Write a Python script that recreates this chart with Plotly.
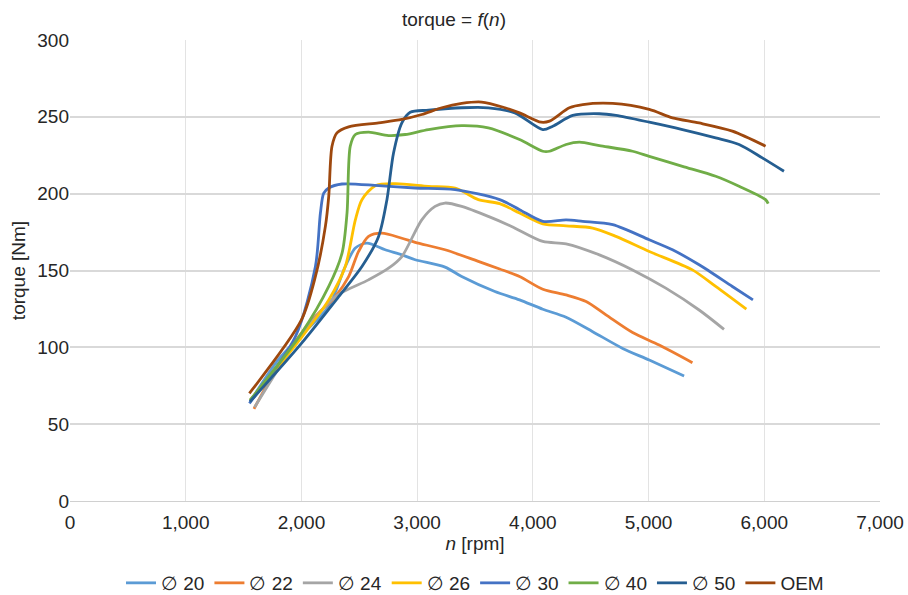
import plotly.graph_objects as go

names = ["∅ 20", "∅ 22", "∅ 24", "∅ 26", "∅ 30", "∅ 40", "∅ 50", "OEM"]
colors = ["#5B9BD5", "#ED7D31", "#A5A5A5", "#FFC000", "#4472C4", "#70AD47", "#255E91", "#9E480E"]

rpm_20 = [1560, 1800, 2000, 2236, 2379, 2466, 2566, 2724, 2868, 2983, 3241, 3385, 3672, 3885, 4086, 4287, 4517, 4776, 5006, 5307]
tq_20 = [65, 92, 108, 126.5, 152.6, 164.6, 167.8, 163.5, 160.2, 157, 152.2, 146.1, 136.3, 130.9, 124.8, 119.6, 110.2, 99.3, 91.7, 81.3]

rpm_22 = [1590, 1800, 2092, 2293, 2408, 2494, 2580, 2695, 2868, 2983, 3241, 3529, 3713, 3885, 4086, 4287, 4460, 4632, 4862, 5092, 5379]
tq_22 = [60, 88, 117.8, 133, 146, 162.4, 172.2, 174.3, 171, 168.3, 163.5, 155.9, 151, 146.1, 137.8, 134.1, 129.8, 121.1, 109.6, 101.5, 90]

rpm_24 = [1595, 1948, 2293, 2580, 2753, 2868, 3040, 3155, 3241, 3385, 3615, 3816, 4086, 4287, 4575, 4862, 5149, 5437, 5652]
tq_24 = [61, 102.6, 133, 143.9, 151.5, 159.1, 183, 191.7, 193.9, 191.7, 185.2, 178.7, 168.9, 167.4, 160.2, 150.4, 138.5, 124.3, 111.7]

rpm_26 = [1560, 2006, 2236, 2379, 2466, 2523, 2638, 2810, 3098, 3328, 3529, 3713, 3885, 4086, 4287, 4517, 4718, 5006, 5379, 5580, 5845]
tq_26 = [65.6, 107, 130.9, 152.6, 183, 196.1, 205.2, 206.5, 204.8, 203.7, 196.1, 193.5, 187.4, 180.4, 179.1, 177.6, 172.2, 162.4, 150.4, 139.6, 124.8]

rpm_30 = [1550, 1948, 2121, 2164, 2193, 2236, 2351, 2667, 2983, 3328, 3713, 3885, 4086, 4287, 4431, 4690, 5006, 5207, 5437, 5724, 5902]
tq_30 = [63.5, 107, 152.6, 187.4, 200.4, 203.7, 206.3, 205.2, 203.7, 202.6, 196.1, 189.6, 182, 183, 182, 179.8, 170, 163.5, 153.7, 139.6, 130.9]

rpm_40 = [1555, 2000, 2236, 2351, 2394, 2422, 2466, 2580, 2753, 2897, 3098, 3385, 3615, 3885, 4086, 4144, 4287, 4402, 4575, 4862, 5006, 5293, 5580, 5782, 6011, 6034]
tq_40 = [65.6, 109.1, 139.6, 161.3, 187.4, 230.9, 238.5, 240, 237.8, 238.5, 241.7, 244.3, 242.8, 235.2, 227.6, 227.6, 232, 233.5, 231.3, 227.6, 224.3, 217.8, 211.3, 204.8, 196.1, 193.5]

rpm_50 = [1555, 2000, 2322, 2523, 2667, 2739, 2796, 2868, 2940, 3098, 3385, 3615, 3845, 4086, 4172, 4345, 4575, 4718, 5006, 5293, 5580, 5782, 5983, 6170]
tq_50 = [64.6, 102.6, 133, 152.6, 172.2, 196.1, 226.5, 246.1, 253, 254.3, 255.9, 255.9, 252.6, 241.7, 243.9, 250.9, 252, 250.9, 246.5, 241.7, 236.3, 232, 223.3, 214.6]

rpm_oem = [1550, 2000, 2121, 2207, 2236, 2264, 2307, 2408, 2667, 2868, 3040, 3213, 3385, 3557, 3759, 3885, 4072, 4144, 4316, 4431, 4690, 5006, 5207, 5437, 5724, 6011]
tq_oem = [70, 117.8, 146.1, 178.7, 198.3, 230.9, 239.6, 243.5, 246.1, 248.3, 251.5, 255.9, 258.7, 259.6, 255.9, 252.6, 246.5, 247.2, 255.9, 258, 258.7, 254.8, 249.3, 246, 240.7, 230.9]

series_rpm = [rpm_20, rpm_22, rpm_24, rpm_26, rpm_30, rpm_40, rpm_50, rpm_oem]
series_tq = [tq_20, tq_22, tq_24, tq_26, tq_30, tq_40, tq_50, tq_oem]

fig = go.Figure()
for nm, col, xs, ys in zip(names, colors, series_rpm, series_tq):
    fig.add_trace(go.Scatter(x=xs, y=ys, mode="lines", name=nm,
                             line=dict(color=col, width=2.8, shape="spline", smoothing=0.8)))

font_family = "Liberation Sans, Arial, sans-serif"
txt = "#262626"
fig.update_layout(
    width=908, height=595,
    margin=dict(l=70, r=28, t=40, b=94, autoexpand=False),
    paper_bgcolor="white", plot_bgcolor="white",
    font=dict(family=font_family, color=txt),
    title=dict(text="torque = <i>f</i>(<i>n</i>)", x=0.5, xanchor="center", y=1 - 19 / 595, yanchor="middle",
               font=dict(size=19, color=txt)),
    showlegend=True,
    legend=dict(orientation="h", x=0.5, xanchor="center", y=-82 / 461, yanchor="middle",
                font=dict(size=19, color=txt), itemwidth=30, tracegroupgap=0),
)
fig.update_xaxes(range=[0, 7000], dtick=1000, tickformat=",", showgrid=True, gridcolor="#e3e3e3",
                 gridwidth=1, zeroline=False, showline=True, linecolor="#d0d0d0",
                 ticks="", ticklabelstandoff=4,
                 tickfont=dict(size=19, color=txt),
                 title=dict(text="<i>n</i> [rpm]", font=dict(size=19, color=txt), standoff=4))
fig.update_yaxes(range=[0, 300], dtick=50, showgrid=True, gridcolor="#d9d9d9", gridwidth=1.5,
                 zeroline=False, showline=False, ticks="",
                 tickfont=dict(size=19, color=txt),
                 title=dict(text="torque [Nm]", font=dict(size=19, color=txt), standoff=6))

fig.write_html("out.html")
